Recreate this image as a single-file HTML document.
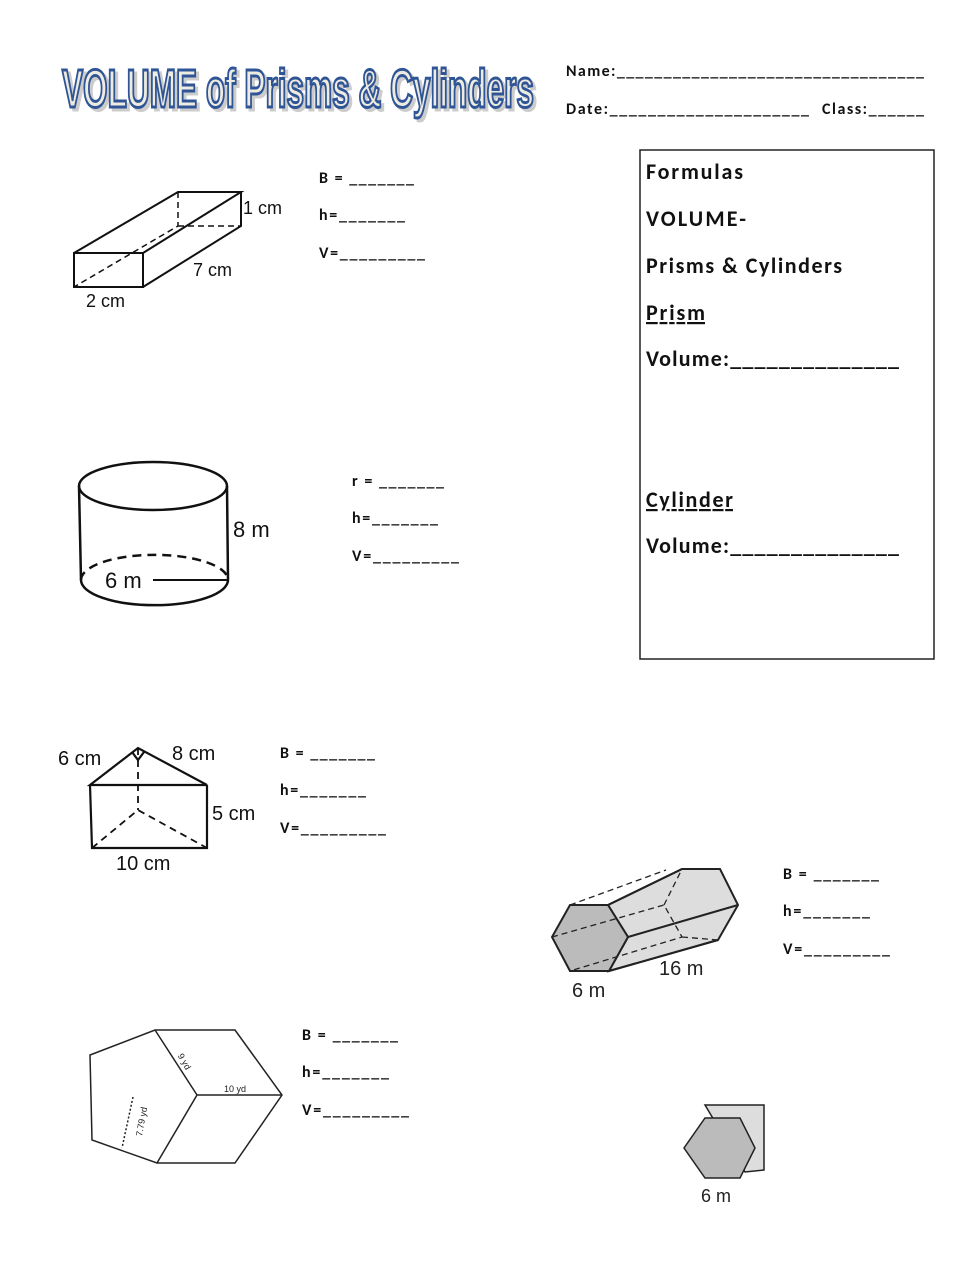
<!DOCTYPE html>
<html><head><meta charset="utf-8"><style>
body{margin:0;background:#fff}
svg text{font-family:"Liberation Sans",sans-serif}
.c{font-family:Calibri,"Carlito","Liberation Sans",sans-serif;font-weight:bold}
</style></head><body>
<svg width="979" height="1266" viewBox="0 0 979 1266" xmlns="http://www.w3.org/2000/svg">
<rect width="979" height="1266" fill="#fff"/>
<text x="62" y="107" font-family="Liberation Sans Narrow,Liberation Sans,sans-serif" font-weight="bold" font-size="54" textLength="472" lengthAdjust="spacingAndGlyphs" fill="#ccc" stroke="#ccc" stroke-width="3" transform="translate(3,3)">VOLUME of Prisms &amp; Cylinders</text>
<text x="62" y="107" font-family="Liberation Sans Narrow,Liberation Sans,sans-serif" font-weight="bold" font-size="54" textLength="472" lengthAdjust="spacingAndGlyphs" fill="#eeece1" stroke="#2f5597" stroke-width="3">VOLUME of Prisms &amp; Cylinders</text>
<g class="c" font-size="16" fill="#111" font-weight="bold">
<text x="566" y="76" class="c" textLength="358">Name:_________________________________</text>
<text x="566" y="114" class="c" textLength="243">Date:_____________________</text>
<text x="822" y="114" class="c" textLength="102">Class:______</text>
<text x="319" y="183" class="c" textLength="95">B = _______</text>
<text x="319" y="220" class="c" textLength="86">h=_______</text>
<text x="319" y="258" class="c" textLength="106">V=_________</text>
<text x="352" y="486" class="c" textLength="92">r = _______</text>
<text x="352" y="523" class="c" textLength="86">h=_______</text>
<text x="352" y="561" class="c" textLength="107">V=_________</text>
<text x="280" y="758" class="c" textLength="95">B = _______</text>
<text x="280" y="795" class="c" textLength="86">h=_______</text>
<text x="280" y="833" class="c" textLength="106">V=_________</text>
<text x="783" y="879" class="c" textLength="96">B = _______</text>
<text x="783" y="916" class="c" textLength="87">h=_______</text>
<text x="783" y="954" class="c" textLength="107">V=_________</text>
<text x="302" y="1040" class="c" textLength="96">B = _______</text>
<text x="302" y="1077" class="c" textLength="87">h=_______</text>
<text x="302" y="1115" class="c" textLength="107">V=_________</text>
</g>
<rect x="640" y="150" width="294" height="509" fill="none" stroke="#222" stroke-width="1.5"/>
<g class="c" font-size="22" fill="#111">
<text x="646" y="179" class="c" textLength="97">Formulas</text>
<text x="646" y="226" class="c" textLength="100">VOLUME-</text>
<text x="646" y="273" class="c" textLength="196">Prisms &amp; Cylinders</text>
<text x="646" y="320" class="c" text-decoration="underline" textLength="59">Prism</text>
<text x="646" y="366" class="c" textLength="253">Volume:______________</text>
<text x="646" y="507" class="c" text-decoration="underline" textLength="87">Cylinder</text>
<text x="646" y="553" class="c" textLength="253">Volume:______________</text>
</g>
<g fill="none" stroke="#111" stroke-width="2">
<rect x="74" y="253" width="69" height="34"/>
<path d="M74 253 L178 192 L241 192 L143 253 M241 192 L241 226 L143 287"/>
<path d="M178 192 L178 226 L74 287 M178 226 L241 226" stroke-dasharray="6 4" stroke-width="1.5"/>
</g>
<g font-size="18" fill="#111">
<text x="243" y="214">1 cm</text><text x="193" y="276">7 cm</text><text x="86" y="307">2 cm</text>
</g>
<g fill="none" stroke="#111" stroke-width="2.5">
<ellipse cx="153" cy="486" rx="74" ry="24"/>
<path d="M79 486 L81 580 M227 486 L228 580"/>
<path d="M81 580 A73 25 0 0 0 228 580"/>
<path d="M81 580 A73 25 0 0 1 228 580" stroke-dasharray="9 6"/>
<path d="M153 580 L228 580" stroke-width="2"/>
</g>
<g font-size="22" fill="#111"><text x="233" y="537">8 m</text><text x="105" y="588">6 m</text></g>
<g fill="none" stroke="#111" stroke-width="2.2">
<path d="M90 785 L138 748 L207 785 Z"/>
<path d="M90 785 L92 848 L207 848 L207 785"/>
<path d="M138 748 L138 810 M92 848 L138 810 L207 848" stroke-dasharray="7 5" stroke-width="1.8"/>
<path d="M132 752 L138 760 L144 752"/>
</g>
<g font-size="20" fill="#111"><text x="58" y="765">6 cm</text><text x="172" y="760">8 cm</text><text x="212" y="820">5 cm</text><text x="116" y="870">10 cm</text></g>
<g stroke="#222" stroke-width="2">
<path d="M608 905 L682 869 L720 869 L738 905 L718 940 L609 971 L628 937 Z" fill="#ddd"/>
<path d="M570 905 L608 905 L628 937 L609 971 L570 971 L552 937 Z" fill="#bbb"/>
<path d="M608 905 L682 869 M628 937 L738 905 M609 971 L718 940" fill="none"/>
<path d="M570 905 L666 870 M552 937 L664 905 L682 937 L570 971 M664 905 L682 869 M682 937 L718 940" fill="none" stroke-dasharray="6 4" stroke-width="1.3"/>
</g>
<g font-size="20" fill="#222"><text x="659" y="975">16 m</text><text x="572" y="997">6 m</text></g>
<g fill="none" stroke="#222" stroke-width="1.5">
<path d="M90 1055 L155 1030 L235 1030 L282 1095 L235 1163 L157 1163 L92 1140 Z"/>
<path d="M155 1030 L197 1095 L157 1163 M197 1095 L282 1095"/>
<path d="M133 1097 L122 1148" stroke-dasharray="2 2"/>
</g>
<g font-size="9" fill="#222"><text x="224" y="1092">10 yd</text><text x="175" y="1060" transform="rotate(60 180 1060)">9 yd</text><text x="128" y="1140" transform="rotate(-80 133 1130)">7.79 yd</text></g>
<g stroke="#222" stroke-width="1.5">
<path d="M705 1105 L764 1105 L764 1170 L745 1172 Z" fill="#ddd"/>
<path d="M705 1118 L740 1118 L755 1148 L740 1178 L705 1178 L684 1148 Z" fill="#bbb"/>
</g>
<text x="701" y="1202" font-size="18" fill="#222">6 m</text>
</svg>
</body></html>
